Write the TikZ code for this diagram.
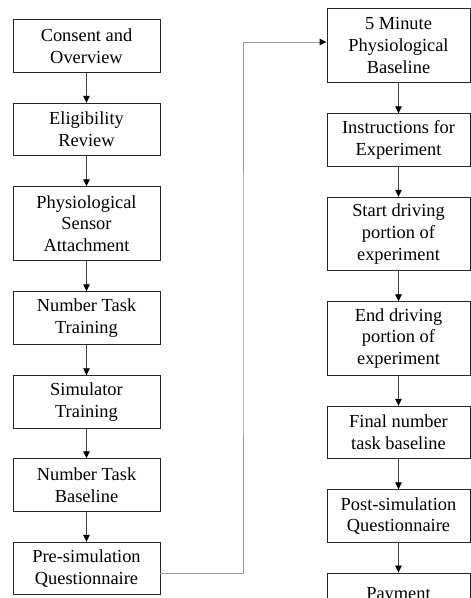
\documentclass[tikz,border=0pt]{standalone}
\usepackage{fontspec}
\setmainfont{Liberation Serif}
\usetikzlibrary{arrows.meta}

\begin{document}
\begin{tikzpicture}[
  x=1pt, y=-1pt,
  every node/.style={draw=black!85, line width=0.9pt, align=center, inner sep=2pt,
    font=\fontsize{18.4}{21.7}\selectfont, minimum height=52.5pt},
  lbox/.style={minimum width=147pt},
  rbox/.style={minimum width=143pt},
  tall/.style={minimum height=73.5pt},
  flow/.style={->, draw=black!75, line width=0.8pt},
  link/.style={->, draw=black!40, line width=1pt},
  >={Triangle[length=7pt,width=6.5pt,color=black]}
]
  \useasboundingbox (0,0) rectangle (471,598);
  \clip (0,0) rectangle (471,598);

  % left column
  \node[lbox] (l1) at (86.5,46)        {Consent and\\Overview};
  \node[lbox] (l2) at (86.5,129.5)     {Eligibility\\Review};
  \node[lbox,tall] (l3) at (86.5,223.5) {Physiological\\Sensor\\Attachment};
  \node[lbox] (l4) at (86.5,318)       {Number Task\\Training};
  \node[lbox] (l5) at (86.5,402)       {Simulator\\Training};
  \node[lbox] (l6) at (86.5,485)       {Number Task\\Baseline};
  \node[lbox] (l7) at (86.5,568.5)     {Pre-simulation\\Questionnaire};

  % right column
  \node[rbox,tall] (r1) at (398.5,45.5) {5 Minute\\Physiological\\Baseline};
  \node[rbox] (r2) at (398.5,140)       {Instructions for\\Experiment};
  \node[rbox,tall] (r3) at (398.5,234)  {Start driving\\portion of\\experiment};
  \node[rbox,tall] (r4) at (398.5,338.5) {End driving\\portion of\\experiment};
  \node[rbox] (r5) at (398.5,432.5)     {Final number\\task baseline};
  \node[rbox] (r6) at (398.5,516)       {Post-simulation\\Questionnaire};
  \node[rbox,minimum height=44pt] (r7) at (398.5,595) {Payment};

  \foreach \a/\b in {l1/l2,l2/l3,l3/l4,l4/l5,l5/l6,l6/l7,
                     r1/r2,r2/r3,r3/r4,r4/r5,r5/r6,r6/r7}
    \draw[flow] (\a) -- (\b);

  % jump to second column
  \coordinate (bend) at (243,300);
  \draw[link] ([yshift=-4.5pt]l7.east) -| (bend) |- ([yshift=3.5pt]r1.west);
\end{tikzpicture}
\end{document}
